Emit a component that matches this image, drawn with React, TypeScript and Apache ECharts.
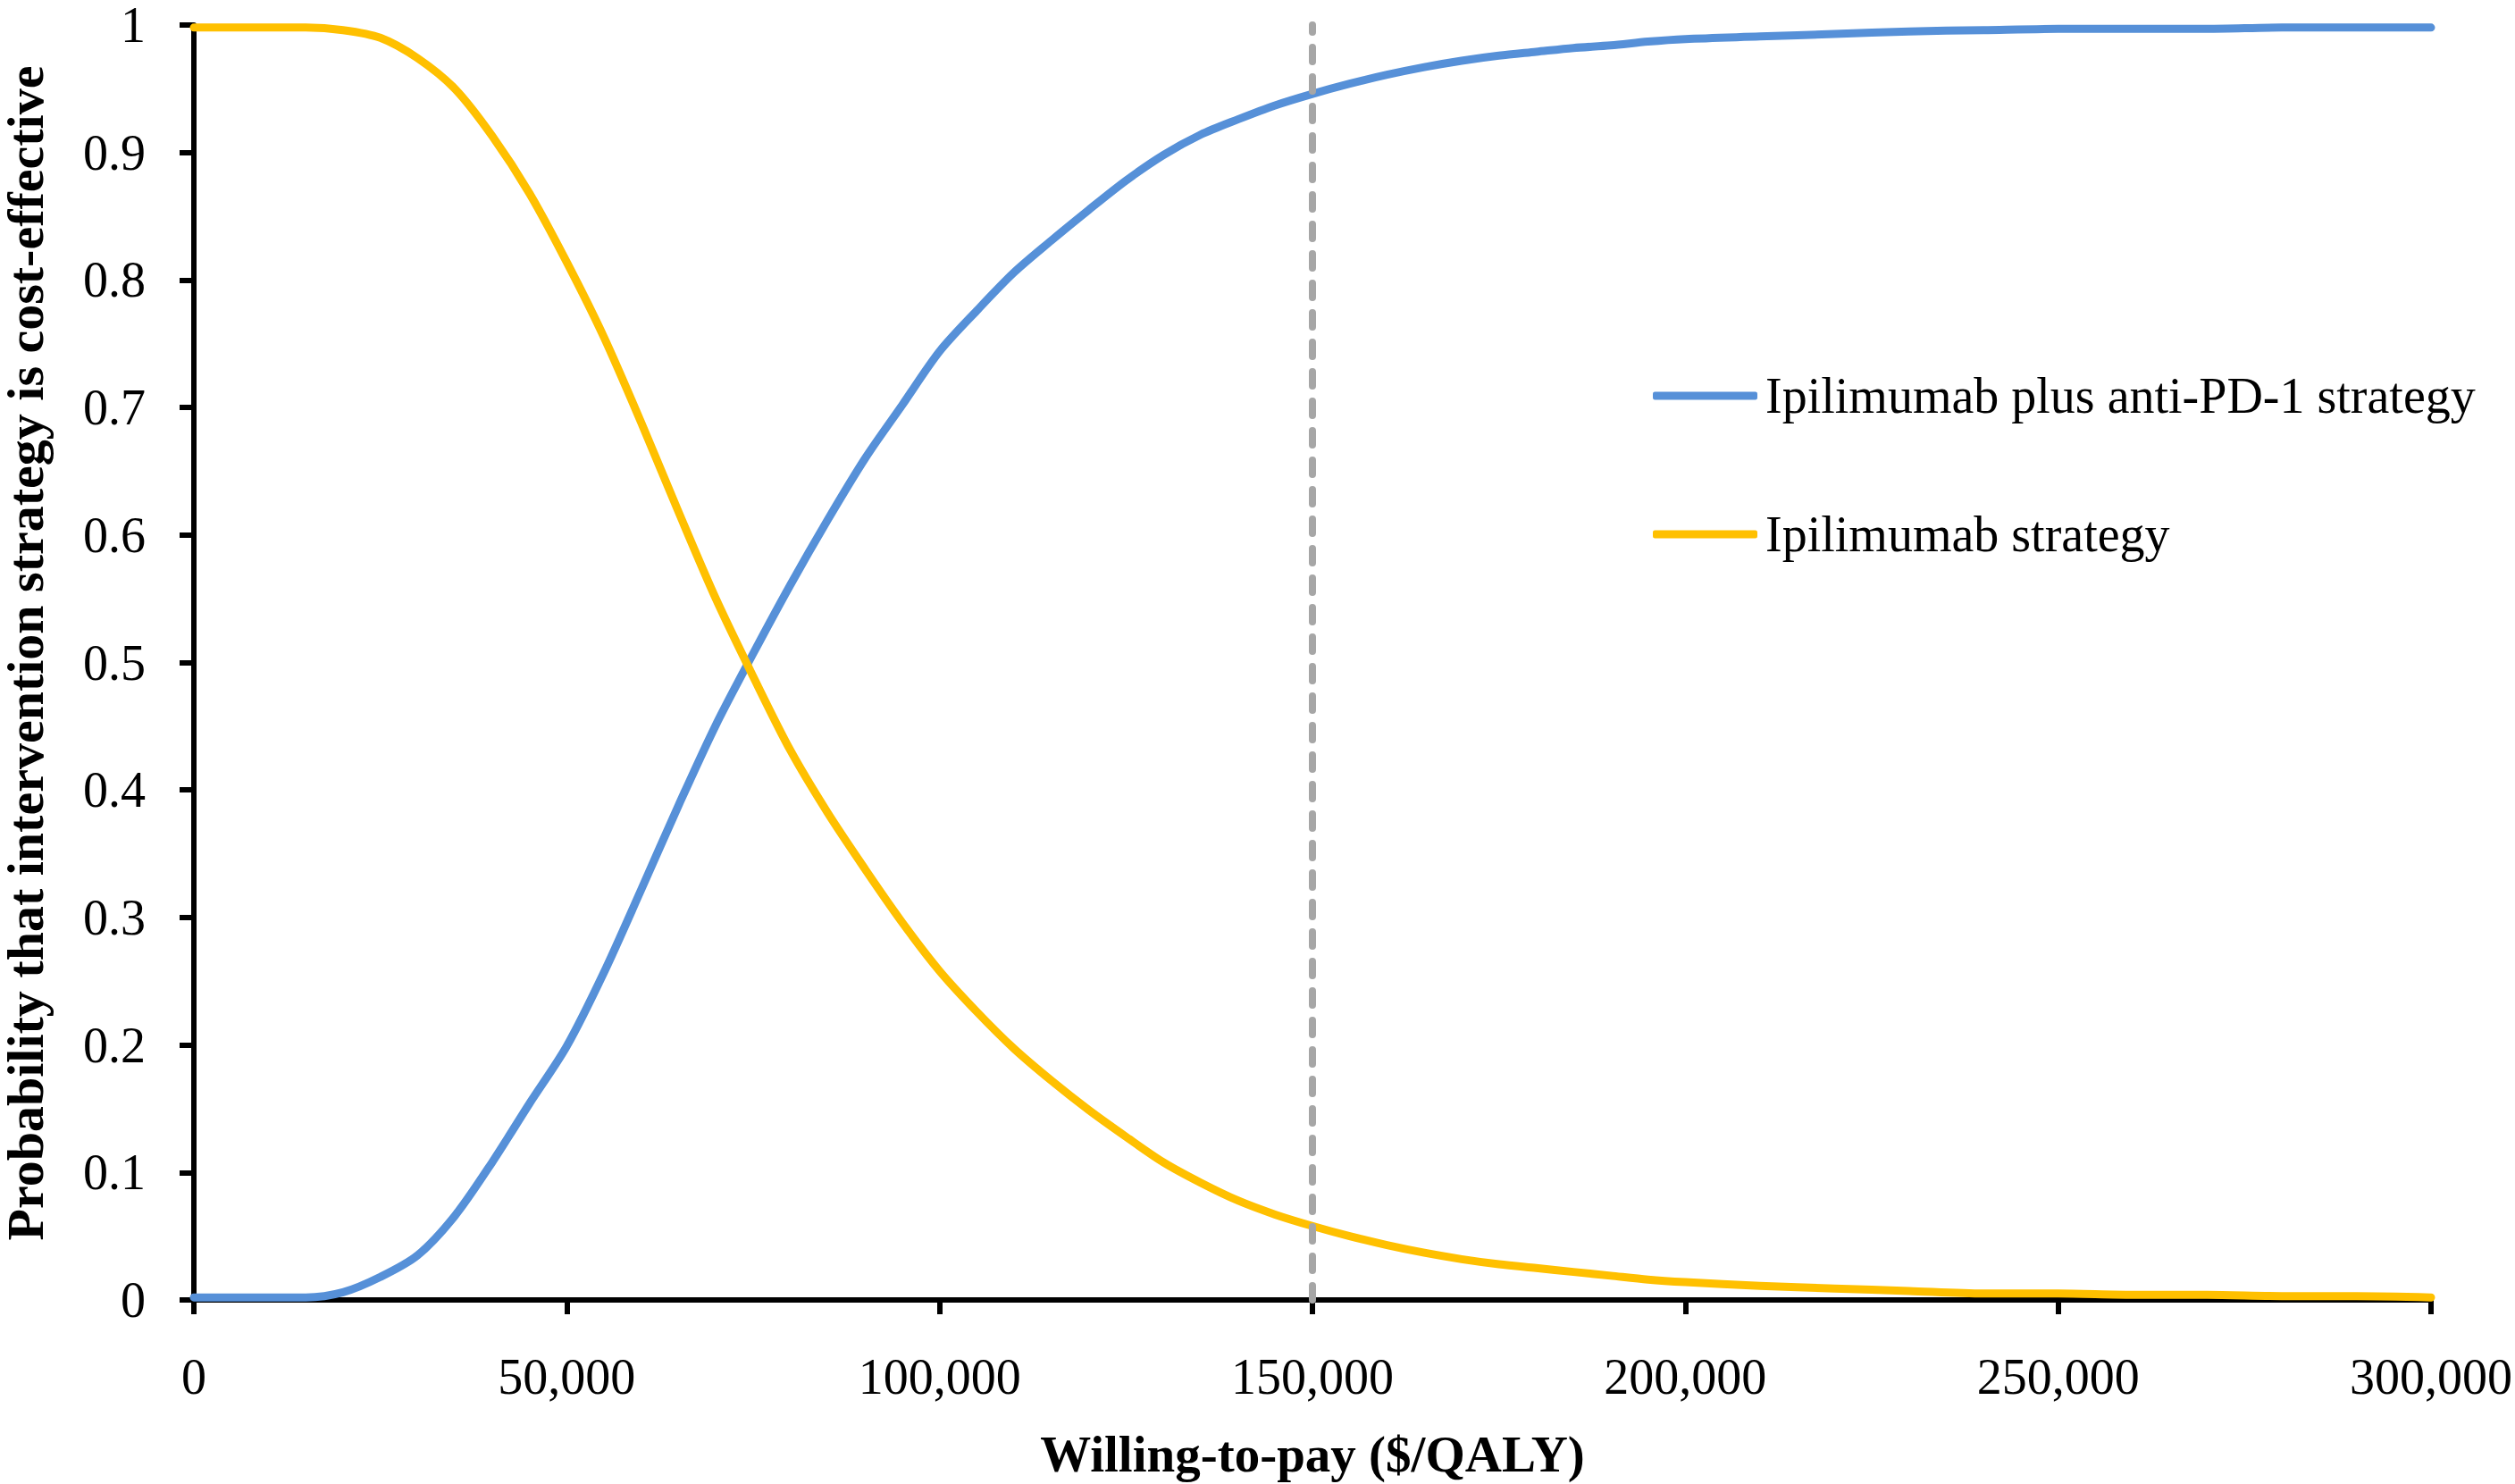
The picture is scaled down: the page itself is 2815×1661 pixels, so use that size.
import React, { useEffect, useRef } from "react";
import * as echarts from "echarts";

const wtp = [
  0, 5000, 10000, 15000, 20000, 25000, 30000, 35000, 40000, 45000, 50000, 55000,
  60000, 65000, 70000, 75000, 80000, 85000, 90000, 95000, 100000, 105000, 110000,
  115000, 120000, 125000, 130000, 135000, 140000, 145000, 150000, 155000, 160000,
  165000, 170000, 175000, 180000, 185000, 190000, 195000, 200000, 210000, 220000,
  230000, 240000, 250000, 260000, 270000, 280000, 290000, 300000,
];

const comboValues = [
  0.002, 0.002, 0.002, 0.002, 0.006, 0.018, 0.035, 0.066, 0.108, 0.154, 0.199, 0.257,
  0.322, 0.388, 0.451, 0.507, 0.561, 0.612, 0.66, 0.702, 0.744, 0.776, 0.806,
  0.831, 0.855, 0.878, 0.898, 0.914, 0.926, 0.937, 0.946, 0.954, 0.961,
  0.967, 0.972, 0.976, 0.979, 0.982, 0.984, 0.987, 0.989, 0.991, 0.993,
  0.995, 0.996, 0.997, 0.997, 0.997, 0.998, 0.998, 0.998,
];

const ipiValues = [
  0.998, 0.998, 0.998, 0.998, 0.996, 0.99, 0.974, 0.95, 0.913, 0.868, 0.814, 0.755,
  0.688, 0.618, 0.55, 0.489, 0.431, 0.382, 0.338, 0.296, 0.258, 0.226, 0.197,
  0.172, 0.149, 0.128, 0.108, 0.092, 0.078, 0.067, 0.058, 0.05, 0.043,
  0.037, 0.032, 0.028, 0.025, 0.022, 0.019, 0.016, 0.014, 0.011, 0.009,
  0.007, 0.005, 0.005, 0.004, 0.004, 0.003, 0.003, 0.002,
];

const seriesNames = ["Ipilimumab plus anti-PD-1 strategy", "Ipilimumab strategy"];
const thresholdWtp = 150000;
const xTitle = "Willing-to-pay ($/QALY)";
const yTitle = "Probability that intervention strategy is cost-effective";

const FONT = "'Liberation Serif', 'Times New Roman', serif";

export default function App() {
  const ref = useRef<HTMLDivElement>(null);

  useEffect(() => {
    if (!ref.current) return;
    const chart = echarts.init(ref.current, undefined, { renderer: "svg" });
    const pair = (vals: number[]) => wtp.map((x, i) => [x, vals[i]]);

    chart.setOption({
      animation: false,
      backgroundColor: "#ffffff",
      textStyle: { fontFamily: FONT },
      grid: { left: 217, right: 93, top: 22, bottom: 203, containLabel: false },
      legend: {
        orient: "vertical",
        left: 1845,
        top: 410,
        itemWidth: 117,
        itemHeight: 9,
        itemGap: 99,
        icon: "roundRect",
        data: seriesNames,
        textStyle: { fontSize: 56, color: "#000", fontFamily: FONT, padding: [0, 0, 0, 4] },
      },
      xAxis: {
        type: "value",
        min: 0,
        max: 300000,
        interval: 50000,
        name: xTitle,
        nameLocation: "middle",
        nameGap: 144,
        nameTextStyle: { fontSize: 57, fontWeight: "bold", color: "#000", fontFamily: FONT },
        axisLine: { show: true, onZero: false, lineStyle: { color: "#000", width: 6 } },
        axisTick: { show: true, inside: false, length: 16, lineStyle: { color: "#000", width: 6 } },
        axisLabel: {
          fontSize: 56,
          color: "#000",
          margin: 58,
          fontFamily: FONT,
          formatter: (v: number) => v.toLocaleString("en-US"),
        },
        splitLine: { show: false },
      },
      yAxis: {
        type: "value",
        min: 0,
        max: 1,
        interval: 0.1,
        axisLine: { show: true, lineStyle: { color: "#000", width: 6 } },
        axisTick: { show: true, inside: false, length: 16, lineStyle: { color: "#000", width: 6 } },
        axisLabel: {
          fontSize: 56,
          lineHeight: 40,
          color: "#000",
          margin: 54,
          fontFamily: FONT,
          formatter: (v: number) => String(+v.toFixed(1)),
        },
        splitLine: { show: false },
      },
      graphic: [
        {
          type: "text",
          x: 28,
          y: 731,
          rotation: Math.PI / 2,
          style: {
            text: yTitle,
            fontSize: 58,
            lineHeight: 50,
            fontWeight: "bold",
            fontFamily: FONT,
            fill: "#000",
            align: "center",
            verticalAlign: "middle",
          },
        },
      ],
      series: [
        {
          name: seriesNames[0],
          type: "line",
          data: pair(comboValues),
          smooth: 0.3,
          symbol: "none",
          color: "#5690D8",
          lineStyle: { color: "#5690D8", width: 9, cap: "round", join: "round" },
          markLine: {
            silent: true,
            symbol: "none",
            label: { show: false },
            lineStyle: { color: "#A6A6A6", width: 8, type: [16, 17], cap: "round" },
            data: [{ xAxis: thresholdWtp }],
          },
          z: 3,
        },
        {
          name: seriesNames[1],
          type: "line",
          data: pair(ipiValues),
          smooth: 0.3,
          symbol: "none",
          color: "#FFC000",
          lineStyle: { color: "#FFC000", width: 9, cap: "round", join: "round" },
          z: 4,
        },
      ],
    });

    return () => chart.dispose();
  }, []);

  return (
    <div
      ref={ref}
      style={{ position: "fixed", left: 0, top: 0, width: 2815, height: 1661, background: "#fff" }}
    />
  );
}
